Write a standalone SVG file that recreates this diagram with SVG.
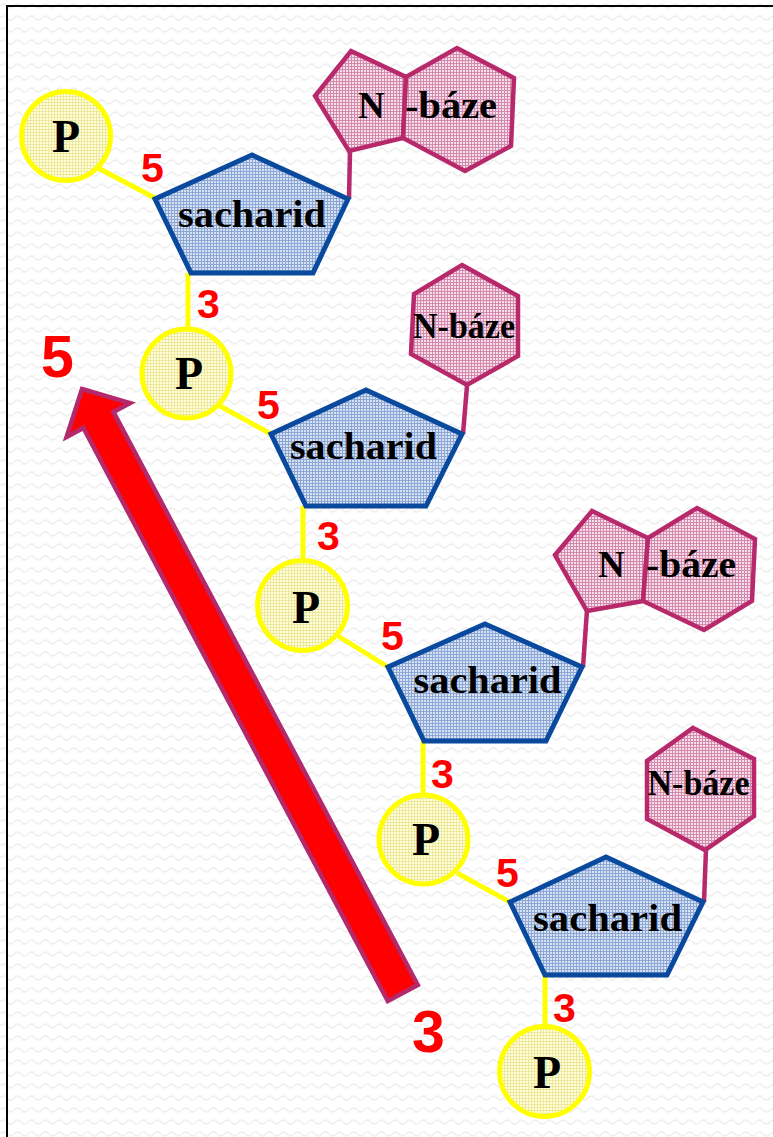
<svg xmlns="http://www.w3.org/2000/svg" width="773" height="1137" viewBox="0 0 773 1137">
<defs>
<pattern id="bgw" width="14" height="12" patternUnits="userSpaceOnUse"><path d="M0 6 Q3.5 2 7 6 T14 6" fill="none" stroke="#EEEEEE" stroke-width="1.3"/></pattern>
<pattern id="gb" width="3" height="3" patternUnits="userSpaceOnUse"><rect width="3" height="3" fill="#D6E1F2"/><path d="M0 0.5H3M0.5 0V3" stroke="#8CA7D5" stroke-width="1"/></pattern>
<pattern id="gp" width="3" height="3" patternUnits="userSpaceOnUse"><rect width="3" height="3" fill="#F7DEEA"/><path d="M0 0.5H3M0.5 0V3" stroke="#D28AAD" stroke-width="1"/></pattern>
<pattern id="gy" width="3" height="3" patternUnits="userSpaceOnUse"><rect width="3" height="3" fill="#FFFFDC"/><path d="M0 0.5H3M0.5 0V3" stroke="#EDE89E" stroke-width="1"/></pattern>
</defs>
<style>
.phos{fill:url(#gy);stroke:#FFFF00;stroke-width:5}
.sug{fill:url(#gb);stroke:#0A4A9E;stroke-width:5;stroke-linejoin:miter}
.base{fill:url(#gp);stroke:#B8296B;stroke-width:4.5;stroke-linejoin:miter}
.ly{stroke:#FFFF00;stroke-width:5;fill:none}
.lm{stroke:#B8296B;stroke-width:4.5;fill:none}
.tP{font-family:"Liberation Serif","Times New Roman",serif;font-weight:bold;font-size:46px;fill:#000;text-anchor:middle}
.tS{font-family:"Liberation Serif","Times New Roman",serif;font-weight:bold;font-size:38px;fill:#000;text-anchor:middle}
.tN{font-family:"Liberation Serif","Times New Roman",serif;font-weight:bold;font-size:35px;fill:#000}
.tD{font-family:"Liberation Sans",Arial,sans-serif;font-weight:bold;font-size:41px;fill:#FF0000}
.tB{font-family:"Liberation Sans",Arial,sans-serif;font-weight:bold;font-size:59px;fill:#FF0000}
</style>
<rect width="773" height="1137" fill="#FFFFFF"/>
<rect width="773" height="1137" fill="url(#bgw)"/>
<path d="M7 1137V6H773" fill="none" stroke="#000" stroke-width="2"/>

<g id="connectors">
<line class="ly" x1="98" y1="168" x2="155" y2="198"/>
<line class="lm" x1="349" y1="199" x2="350" y2="151"/>
<line class="ly" x1="188" y1="273" x2="188" y2="330"/>
<line class="ly" x1="220" y1="406" x2="271" y2="434"/>
<line class="lm" x1="463" y1="434" x2="467" y2="386"/>
<line class="ly" x1="303" y1="506" x2="303" y2="562"/>
<line class="ly" x1="338" y1="636" x2="388" y2="667"/>
<line class="lm" x1="583" y1="667" x2="587" y2="610"/>
<line class="ly" x1="423" y1="741" x2="423" y2="796"/>
<line class="ly" x1="457" y1="873" x2="510" y2="902"/>
<line class="lm" x1="704" y1="902" x2="706" y2="849"/>
<line class="ly" x1="545" y1="975" x2="545" y2="1028"/>
</g>

<g id="arrow">
<polygon points="82,389 130,403 113.4,411.9 417.8,985 387.8,1001 83.4,427.9 66.6,436.8" fill="#FF0000" stroke="#B3296B" stroke-width="4.5" stroke-linejoin="miter"/>
</g>

<g id="p1"><circle class="phos" cx="66" cy="136" r="44.5"/><text class="tP" x="66" y="152">P</text></g>
<g id="s1"><polygon class="sug" points="252,155 348,199 313,273 191,273 155,199"/><text class="tS" x="252" y="227" textLength="148" lengthAdjust="spacingAndGlyphs">sacharid</text></g>
<g id="n1"><polygon class="base" points="351,51 406,77 403,138 349,151 315,96"/><polygon class="base" points="406,77 457,48 514,78 511,146 465,171 403,138"/><text class="tN" x="358" y="118" style="font-size:37px">N</text><text class="tN" x="405" y="118" textLength="92" lengthAdjust="spacingAndGlyphs" style="font-size:37px">-báze</text></g>

<g id="p2"><circle class="phos" cx="186.5" cy="373.5" r="44.5"/><text class="tP" x="189" y="389">P</text></g>
<g id="s2"><polygon class="sug" points="366,390 462,434 426,506 306,506 271,434"/><text class="tS" x="363.5" y="459" textLength="147" lengthAdjust="spacingAndGlyphs">sacharid</text></g>
<g id="n2"><polygon class="base" points="462,265 518,296 518,356 467,385 411,354 414,294"/><text class="tN" x="464" y="338" text-anchor="middle" textLength="102" lengthAdjust="spacingAndGlyphs">N-báze</text></g>

<g id="p3"><circle class="phos" cx="302.5" cy="605.5" r="45"/><text class="tP" x="306" y="623">P</text></g>
<g id="s3"><polygon class="sug" points="485,624 582,667 546,741 424,741 388,667"/><text class="tS" x="487.5" y="693" textLength="148" lengthAdjust="spacingAndGlyphs">sacharid</text></g>
<g id="n3"><polygon class="base" points="592,511 648,538 643,601 587,611 555,555"/><polygon class="base" points="648,538 697,508 755,539 752,601 704,630 643,601"/><text class="tN" x="598" y="577" style="font-size:37px">N</text><text class="tN" x="646" y="577" textLength="90" lengthAdjust="spacingAndGlyphs" style="font-size:37px">-báze</text></g>

<g id="p4"><circle class="phos" cx="423.5" cy="839.5" r="44.5"/><text class="tP" x="426" y="855">P</text></g>
<g id="s4"><polygon class="sug" points="606,857 703,902 667,975 545,975 510,902"/><text class="tS" x="607.5" y="931" textLength="149" lengthAdjust="spacingAndGlyphs">sacharid</text></g>
<g id="n4"><polygon class="base" points="693,728 754,759 754,816 705,850 647,819 647,761"/><text class="tN" x="698.5" y="795" text-anchor="middle" textLength="102" lengthAdjust="spacingAndGlyphs">N-báze</text></g>

<g id="p5"><circle class="phos" cx="544.5" cy="1071.5" r="45"/><text class="tP" x="547" y="1088">P</text></g>

<g id="labels">
<text class="tD" x="141" y="182">5</text>
<text class="tD" x="197" y="318">3</text>
<text class="tD" x="257" y="419">5</text>
<text class="tD" x="317" y="550">3</text>
<text class="tD" x="381" y="650">5</text>
<text class="tD" x="431" y="788">3</text>
<text class="tD" x="496" y="887">5</text>
<text class="tD" x="553" y="1022">3</text>
<text class="tB" x="41" y="377">5</text>
<text class="tB" x="412" y="1052">3</text>
</g>
</svg>
